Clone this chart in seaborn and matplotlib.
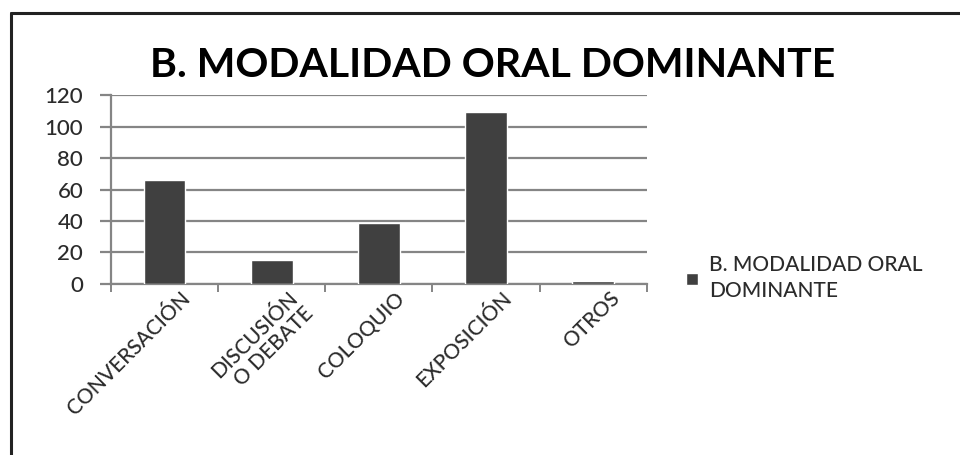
import matplotlib
matplotlib.use("Agg")
import matplotlib.pyplot as plt
import matplotlib.lines as mlines
import matplotlib.transforms as mtransforms
import numpy as np
import pandas as pd
import seaborn as sns

# data
categorias = ['CONVERSACIÓN', 'DISCUSIÓN\nO DEBATE', 'COLOQUIO', 'EXPOSICIÓN', 'OTROS']
valores = [66, 15, 39, 109, 2]
serie = 'B. MODALIDAD ORAL\nDOMINANTE'
titulo = 'B. MODALIDAD ORAL DOMINANTE'

sns.set_theme(style='white')
plt.rcParams['font.family'] = ['Lato', 'DejaVu Sans']

BAR = '#404040'
GRID = '#858585'
TXT = '#2b2b2b'

df = pd.DataFrame({'cat': categorias, 'val': valores})

fig = plt.figure(figsize=(9.6, 4.55), dpi=100)
ax = fig.add_axes([0.1156, 0.376, 0.558, 0.415])

sns.barplot(data=df, x='cat', y='val', color=BAR, width=0.39,
            saturation=1, ax=ax, label=serie, zorder=3)

ax.set_ylim(0, 120)
ax.set_xlim(-0.5, len(categorias) - 0.5)
ax.set_yticks(np.arange(0, 121, 20))
ax.yaxis.grid(True, color=GRID, lw=1.6)
ax.set_axisbelow(True)
ax.set_xlabel('')
ax.set_ylabel('')

for s in ['top', 'right']:
    ax.spines[s].set_visible(False)
ax.spines['left'].set_color(GRID)
ax.spines['bottom'].set_color(GRID)
ax.spines['left'].set_linewidth(1.6)
ax.spines['bottom'].set_linewidth(1.6)

ax.tick_params(axis='y', left=True, length=8, width=1.6, color=GRID,
               labelsize=16, labelcolor=TXT, pad=12)
for lab in ax.get_yticklabels():
    lab.set_fontweight('medium')
ax.set_xticks(range(len(categorias)))
ax.set_xticklabels(categorias, rotation=45, ha='right', rotation_mode='anchor',
                   fontsize=15, color=TXT, linespacing=1.1, fontweight='medium')
ax.tick_params(axis='x', bottom=False, pad=0)
ax.set_xticks(np.arange(-0.5, len(categorias), 1.0), minor=True)
ax.tick_params(axis='x', which='minor', bottom=True, length=6, width=1.4, color=GRID)

# nudge rotated labels to the right and up, as in the original
shift = mtransforms.ScaledTranslation(16 / 100, 4 / 100, fig.dpi_scale_trans)
for lab in ax.get_xticklabels():
    lab.set_transform(lab.get_transform() + shift)

leg = ax.legend(loc='center left', bbox_to_anchor=(1.074, 0.03), frameon=False,
                fontsize=15, labelcolor=TXT, handlelength=0.55, handleheight=0.55,
                handletextpad=0.55, borderpad=0, borderaxespad=0, labelspacing=0)
for t in leg.get_texts():
    t.set_fontweight('medium')
    t.set_linespacing(1.35)

fig.text(0.513, 0.855, titulo, ha='center', va='center', fontsize=29.5,
         fontweight='bold', color='black')

# frame lines at left and top
fig.add_artist(mlines.Line2D([0.0115, 0.0115], [0, 0.972], color='#222222', lw=2.2))
fig.add_artist(mlines.Line2D([0.0115, 1.0], [0.972, 0.972], color='#222222', lw=2.2))

fig.savefig('out.png', dpi=100, facecolor='white')
